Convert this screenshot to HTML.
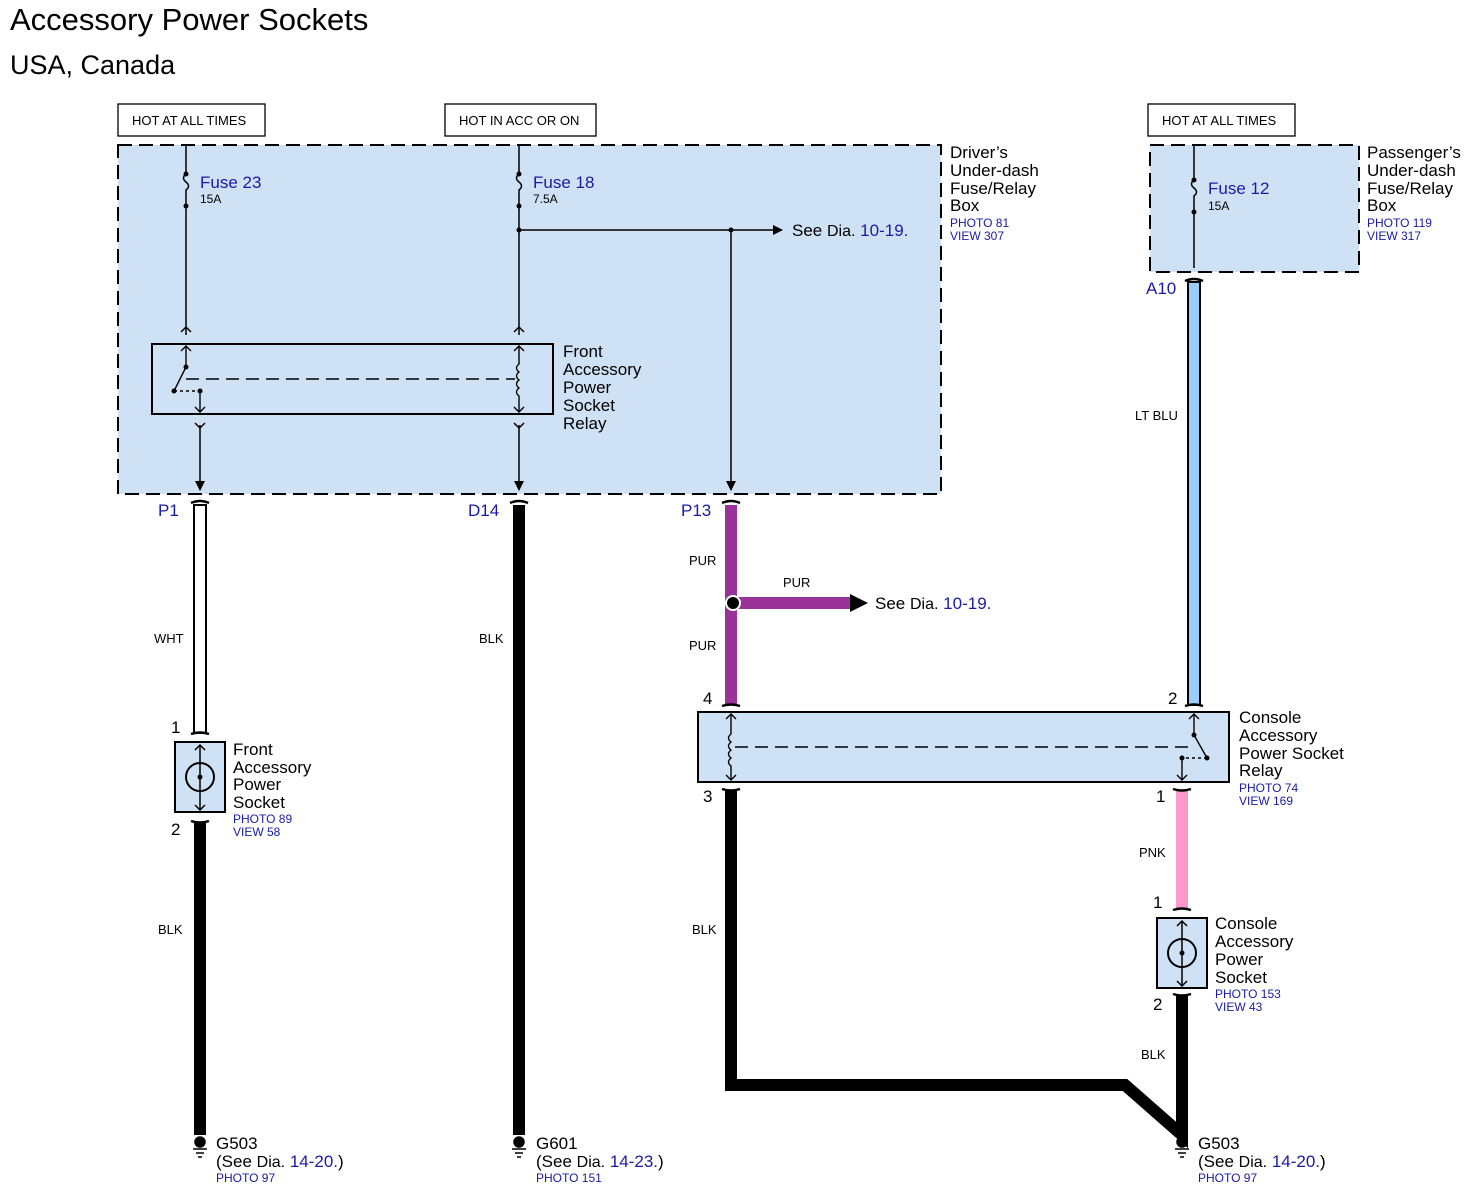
<!DOCTYPE html>
<html><head><meta charset="utf-8"><style>
html,body{margin:0;padding:0;background:#fff;}
svg{display:block;font-family:"Liberation Sans",Arial,sans-serif;}
.b{fill:#1a1aa6;}
</style></head><body>
<svg width="1478" height="1191" viewBox="0 0 1478 1191" xmlns="http://www.w3.org/2000/svg">
<defs>
<marker id="ar" markerWidth="10" markerHeight="10" refX="9" refY="5" orient="auto" markerUnits="userSpaceOnUse"><path d="M0,0 L10,5 L0,10 z" fill="#000"/></marker>
</defs>
<text x="10" y="30" font-size="31">Accessory Power Sockets</text>
<text x="10" y="74" font-size="27">USA, Canada</text>

<g font-size="13" stroke-width="1.3">
<rect x="118" y="104" width="147" height="32" fill="#fff" stroke="#000"/><text x="132" y="125">HOT AT ALL TIMES</text>
<rect x="445" y="104" width="151" height="32" fill="#fff" stroke="#000"/><text x="459" y="125">HOT IN ACC OR ON</text>
<rect x="1148" y="104" width="147" height="32" fill="#fff" stroke="#000"/><text x="1162" y="125">HOT AT ALL TIMES</text>
</g>

<rect x="118" y="145" width="823" height="349" fill="#cfe2f5" stroke="#000" stroke-width="2" stroke-dasharray="14,7"/>
<rect x="1150" y="145" width="209" height="127" fill="#cfe2f5" stroke="#000" stroke-width="2" stroke-dasharray="14,7"/>

<g font-size="17">
<text x="950" y="158">Driver’s</text><text x="950" y="176">Under-dash</text><text x="950" y="194">Fuse/Relay</text><text x="950" y="211">Box</text>
<text x="1367" y="158">Passenger’s</text><text x="1367" y="176">Under-dash</text><text x="1367" y="194">Fuse/Relay</text><text x="1367" y="211">Box</text>
</g>
<g font-size="12" class="b"><text x="950" y="227">PHOTO 81</text><text x="950" y="240">VIEW 307</text>
<text x="1367" y="227">PHOTO 119</text><text x="1367" y="240">VIEW 317</text></g>

<g stroke="#000" stroke-width="1.5" fill="none">
<path d="M186 145 V174 q-5 4 0 8 q5 4 0 8 V335"/>
<path d="M519 145 V174 q-5 4 0 8 q5 4 0 8 V335"/>
<path d="M1194 145 V180 q-5 4 0 8 q5 4 0 8 V268"/>
<path d="M519 230 H782" marker-end="url(#ar)"/>
<path d="M731 230 V490" marker-end="url(#ar)"/>
<path d="M200 425 V490" marker-end="url(#ar)"/>
<path d="M519 425 V490" marker-end="url(#ar)"/>
<path d="M181 332 l5 -5 l5 5 M514 332 l5 -5 l5 5"/>
<path d="M195 423 l5 5 l5 -5 M514 423 l5 5 l5 -5"/>
</g>
<g fill="#000"><circle cx="186" cy="174" r="2.5"/><circle cx="186" cy="206" r="2.5"/><circle cx="519" cy="174" r="2.5"/><circle cx="519" cy="206" r="2.5"/><circle cx="519" cy="230" r="2.5"/><circle cx="731" cy="230" r="2.5"/><circle cx="1194" cy="180" r="2.5"/><circle cx="1194" cy="212" r="2.5"/></g>
<text x="200" y="188" font-size="17" class="b">Fuse 23</text><text x="200" y="203" font-size="12">15A</text>
<text x="533" y="188" font-size="17" class="b">Fuse 18</text><text x="533" y="203" font-size="12">7.5A</text>
<text x="1208" y="194" font-size="17" class="b">Fuse 12</text><text x="1208" y="210" font-size="12">15A</text>
<text x="792" y="236" font-size="17">See <tspan font-size="16">Dia.</tspan> <tspan class="b">10-19.</tspan></text>

<rect x="152" y="344" width="401" height="70" fill="none" stroke="#000" stroke-width="2"/>
<g stroke="#000" stroke-width="1.4" fill="none">
<path d="M186 346 V367 L174 391"/><path d="M181 351 l5 -5 l5 5"/>
<path d="M174 391 L200 391" stroke-dasharray="3,3"/>
<path d="M200 391 V412"/><path d="M195 407 l5 5 l5 -5"/>
<path d="M186 379 H515" stroke-dasharray="13,7"/>
<path d="M519 346 V364 q-5 4 0 8 q-5 4 0 8 q-5 4 0 8 q-5 4 0 8 V412"/><path d="M514 351 l5 -5 l5 5 M514 407 l5 5 l5 -5"/>
</g>
<g fill="#000"><circle cx="186" cy="367" r="2.5"/><circle cx="174" cy="391" r="2.5"/><circle cx="200" cy="391" r="2.5"/></g>
<g font-size="17"><text x="563" y="357">Front</text><text x="563" y="375">Accessory</text><text x="563" y="393">Power</text><text x="563" y="411">Socket</text><text x="563" y="429">Relay</text></g>

<g font-size="17" class="b"><text x="158" y="516">P1</text><text x="468" y="516">D14</text><text x="681" y="516">P13</text><text x="1146" y="294">A10</text></g>

<rect x="194" y="505" width="12" height="228" fill="#fff" stroke="#000" stroke-width="2"/>
<path d="M519 505 V1135" stroke="#000" stroke-width="12"/>
<path d="M731 505 V705 M731 603 H855" stroke="#993399" stroke-width="12"/>
<path d="M850 594 L868 603 L850 612 z" fill="#000"/>
<circle cx="733" cy="603" r="7" fill="#000" stroke="#fff" stroke-width="2"/>
<rect x="1188" y="282" width="12" height="423" fill="#99ccff" stroke="#000" stroke-width="2"/>
<path d="M731 790 V1085 H1125 L1182 1135 V995" fill="none" stroke="#000" stroke-width="12" stroke-linejoin="miter"/>
<path d="M200 822 V1135" stroke="#000" stroke-width="12"/>
<path d="M1182 790 V908" stroke="#ff99cc" stroke-width="12"/>

<g stroke="#000" stroke-width="2.5" fill="none">
<path d="M191 503 q9 -4 18 0 M510 503 q9 -4 18 0 M722 503 q9 -4 18 0 M1185 281 q9 -4 18 0"/>
<path d="M191 734 q9 -3 18 0 M722 706 q9 -3 18 0 M1185 706 q9 -3 18 0 M1173 910 q9 -3 18 0"/>
<path d="M191 821 q9 3 18 0 M722 789 q9 3 18 0 M1173 789 q9 3 18 0 M1173 994 q9 3 18 0"/>
</g>

<g font-size="13"><text x="154" y="643">WHT</text><text x="479" y="643">BLK</text><text x="689" y="565">PUR</text><text x="783" y="587">PUR</text><text x="689" y="650">PUR</text>
<text x="1135" y="420">LT BLU</text><text x="1139" y="857">PNK</text><text x="158" y="934">BLK</text><text x="692" y="934">BLK</text><text x="1141" y="1059">BLK</text></g>
<text x="875" y="609" font-size="17">See <tspan font-size="16">Dia.</tspan> <tspan class="b">10-19.</tspan></text>

<rect x="698" y="712" width="531" height="70" fill="#cfe2f5" stroke="#000" stroke-width="2"/>
<g stroke="#000" stroke-width="1.4" fill="none">
<path d="M731 714 V734 q-5 4 0 8 q-5 4 0 8 q-5 4 0 8 q-5 4 0 8 V780"/><path d="M726 719 l5 -5 l5 5 M726 775 l5 5 l5 -5"/>
<path d="M735 747 H1190" stroke-dasharray="13,7"/>
<path d="M1194 714 V735 L1207 758"/><path d="M1189 719 l5 -5 l5 5"/>
<path d="M1207 758 H1182" stroke-dasharray="3,3"/>
<path d="M1182 758 V780"/><path d="M1177 775 l5 5 l5 -5"/>
</g>
<g fill="#000"><circle cx="1194" cy="735" r="2.5"/><circle cx="1207" cy="758" r="2.5"/><circle cx="1182" cy="758" r="2.5"/></g>
<g font-size="17"><text x="1239" y="723">Console</text><text x="1239" y="741">Accessory</text><text x="1239" y="759">Power Socket</text><text x="1239" y="776">Relay</text></g>
<g font-size="12" class="b"><text x="1239" y="792">PHOTO 74</text><text x="1239" y="805">VIEW 169</text></g>
<g font-size="17"><text x="703" y="704">4</text><text x="1168" y="704">2</text><text x="703" y="802">3</text><text x="1156" y="802">1</text>
<text x="171" y="733">1</text><text x="171" y="835">2</text><text x="1153" y="908">1</text><text x="1153" y="1010">2</text></g>

<g stroke="#000" fill="none" stroke-width="1.5">
<rect x="175" y="742" width="50" height="70" fill="#cfe2f5" stroke-width="2"/>
<circle cx="200" cy="777" r="14" stroke-width="2"/><path d="M200 745 V777 M200 777 V810"/><path d="M195 750 l5 -5 l5 5 M195 805 l5 5 l5 -5"/>
<rect x="1157" y="918" width="50" height="70" fill="#cfe2f5" stroke-width="2"/>
<circle cx="1182" cy="953" r="14" stroke-width="2"/><path d="M1182 921 V986"/><path d="M1177 926 l5 -5 l5 5 M1177 981 l5 5 l5 -5"/>
</g>
<g fill="#000"><circle cx="200" cy="777" r="2.5"/><circle cx="1182" cy="953" r="2.5"/></g>
<g font-size="17"><text x="233" y="755">Front</text><text x="233" y="773">Accessory</text><text x="233" y="790">Power</text><text x="233" y="808">Socket</text>
<text x="1215" y="929">Console</text><text x="1215" y="947">Accessory</text><text x="1215" y="965">Power</text><text x="1215" y="983">Socket</text></g>
<g font-size="12" class="b"><text x="233" y="823">PHOTO 89</text><text x="233" y="836">VIEW 58</text>
<text x="1215" y="998">PHOTO 153</text><text x="1215" y="1011">VIEW 43</text></g>

<g fill="#000" stroke="#000" stroke-width="1.5">
<circle cx="200" cy="1142" r="5"/><path d="M193 1149 H207 M196 1153 H204 M198 1157 H202" fill="none"/>
<circle cx="519" cy="1142" r="5"/><path d="M512 1149 H526 M515 1153 H523 M517 1157 H521" fill="none"/>
<circle cx="1182" cy="1142" r="5"/><path d="M1175 1149 H1189 M1178 1153 H1186 M1180 1157 H1184" fill="none"/>
</g>
<g font-size="17">
<text x="216" y="1149">G503</text><text x="216" y="1167">(See <tspan font-size="16">Dia.</tspan> <tspan class="b">14-20.</tspan>)</text>
<text x="536" y="1149">G601</text><text x="536" y="1167">(See <tspan font-size="16">Dia.</tspan> <tspan class="b">14-23.</tspan>)</text>
<text x="1198" y="1149">G503</text><text x="1198" y="1167">(See <tspan font-size="16">Dia.</tspan> <tspan class="b">14-20.</tspan>)</text>
</g>
<g font-size="12" class="b"><text x="216" y="1182">PHOTO 97</text><text x="536" y="1182">PHOTO 151</text><text x="1198" y="1182">PHOTO 97</text></g>
</svg>
</body></html>
